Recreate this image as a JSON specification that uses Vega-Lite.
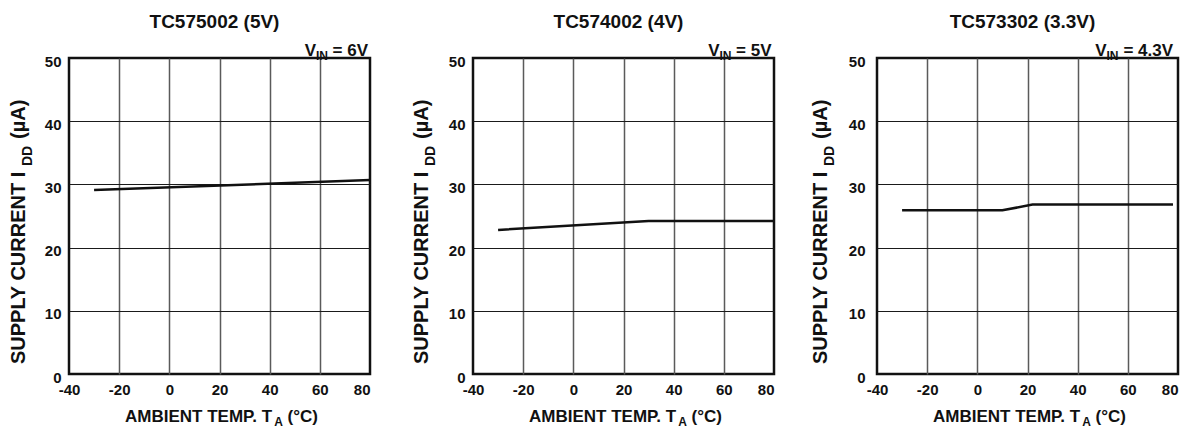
{
  "$schema": "https://vega.github.io/schema/vega-lite/v6.json",
  "padding": {"left": 7, "top": 11, "right": 0, "bottom": 0},
  "background": "white",
  "bounds": "flush",
  "spacing": 103,
  "config": {
    "font": "Liberation Sans",
    "view": {"stroke": "#111", "strokeWidth": 2.5},
    "axis": {
      "labelFont": "Liberation Sans",
      "labelFontSize": 15,
      "labelFontWeight": "bold",
      "labelColor": "#111",
      "ticks": false,
      "domain": false,
      "grid": true
    },
    "axisX": {"labelPadding": 8, "labelFlush": false, "gridColor": "#5a5a5a", "gridWidth": 1.5},
    "axisY": {"labelPadding": 8, "gridColor": "#1a1a1a", "gridWidth": 1.2},
    "text": {"font": "Liberation Sans", "fontWeight": "bold", "color": "#111"},
    "title": {"font": "Liberation Sans", "fontSize": 19, "fontWeight": "bold", "color": "#111", "frame": "group", "anchor": "middle", "offset": 10}
  },
  "hconcat": [
    {
      "width": 301,
      "height": 316,
      "title": {"text": "TC575002 (5V)", "dx": -5},
      "layer": [
        {
          "data": {"values": [
            {"panel": "TC575002 (5V)", "temp": -30, "idd": 29.1},
            {"panel": "TC575002 (5V)", "temp": 80, "idd": 30.7}
          ]},
          "mark": {"type": "line", "color": "#111", "strokeWidth": 2.5},
          "encoding": {
            "x": {"field": "temp", "type": "quantitative", "scale": {"domain": [-40, 80], "nice": false, "zero": false},
                  "axis": {"values": [-40, -20, 0, 20, 40, 60, 80], "title": null, "labelFontSize": 15, "labelExpr": "datum.value + ''",
                           "labelAlign": {"condition": {"test": "datum.value == 80", "value": "right"}, "value": "center"},
                           "gridOpacity": {"condition": {"test": "datum.value == -40 || datum.value == 80", "value": 0}, "value": 1}}},
            "y": {"field": "idd", "type": "quantitative", "scale": {"domain": [0, 50], "nice": false},
                  "axis": {"values": [0, 10, 20, 30, 40, 50], "title": null, "labelFontSize": 15, "labelOffset": 3,
                           "gridOpacity": {"condition": {"test": "datum.value == 0 || datum.value == 50", "value": 0}, "value": 1}}}
          }
        },
        {"data": {"values": [{}]}, "mark": {"type": "text", "text": "= 6V", "align": "right", "baseline": "alphabetic", "fontSize": 17, "dx": -2, "dy": -2},
         "encoding": {"x": {"datum": 80, "type": "quantitative", "scale": {"domain": [-40, 80]}}, "y": {"datum": 50, "type": "quantitative", "scale": {"domain": [0, 50]}}}},
        {"data": {"values": [{}]}, "mark": {"type": "text", "text": "IN", "align": "right", "baseline": "alphabetic", "fontSize": 12, "dx": -42, "dy": 2},
         "encoding": {"x": {"datum": 80, "type": "quantitative", "scale": {"domain": [-40, 80]}}, "y": {"datum": 50, "type": "quantitative", "scale": {"domain": [0, 50]}}}},
        {"data": {"values": [{}]}, "mark": {"type": "text", "text": "V", "align": "right", "baseline": "alphabetic", "fontSize": 17, "dx": -54, "dy": -2},
         "encoding": {"x": {"datum": 80, "type": "quantitative", "scale": {"domain": [-40, 80]}}, "y": {"datum": 50, "type": "quantitative", "scale": {"domain": [0, 50]}}}},
        {"data": {"values": [{}]}, "mark": {"type": "text", "text": "AMBIENT TEMP. T", "align": "left", "baseline": "alphabetic", "fontSize": 17, "dx": -94.5, "dy": 48},
         "encoding": {"x": {"datum": 20, "type": "quantitative", "scale": {"domain": [-40, 80]}}, "y": {"datum": 0, "type": "quantitative", "scale": {"domain": [0, 50]}}}},
        {"data": {"values": [{}]}, "mark": {"type": "text", "text": "A", "align": "left", "baseline": "alphabetic", "fontSize": 12, "dx": 54.7, "dy": 52},
         "encoding": {"x": {"datum": 20, "type": "quantitative", "scale": {"domain": [-40, 80]}}, "y": {"datum": 0, "type": "quantitative", "scale": {"domain": [0, 50]}}}},
        {"data": {"values": [{}]}, "mark": {"type": "text", "text": "(°C)", "align": "left", "baseline": "alphabetic", "fontSize": 17, "dx": 68, "dy": 48},
         "encoding": {"x": {"datum": 20, "type": "quantitative", "scale": {"domain": [-40, 80]}}, "y": {"datum": 0, "type": "quantitative", "scale": {"domain": [0, 50]}}}},
        {"data": {"values": [{}]}, "mark": {"type": "text", "text": "SUPPLY CURRENT  I", "align": "left", "baseline": "alphabetic", "angle": 270, "fontSize": 20, "dx": -148, "dy": -44},
         "encoding": {"x": {"datum": -40, "type": "quantitative", "scale": {"domain": [-40, 80]}}, "y": {"datum": 25, "type": "quantitative", "scale": {"domain": [0, 50]}}}},
        {"data": {"values": [{}]}, "mark": {"type": "text", "text": "DD", "align": "left", "baseline": "alphabetic", "angle": 270, "fontSize": 14, "dx": 50, "dy": -37},
         "encoding": {"x": {"datum": -40, "type": "quantitative", "scale": {"domain": [-40, 80]}}, "y": {"datum": 25, "type": "quantitative", "scale": {"domain": [0, 50]}}}},
        {"data": {"values": [{}]}, "mark": {"type": "text", "text": "(µA)", "align": "left", "baseline": "alphabetic", "angle": 270, "fontSize": 20, "dx": 77, "dy": -44},
         "encoding": {"x": {"datum": -40, "type": "quantitative", "scale": {"domain": [-40, 80]}}, "y": {"datum": 25, "type": "quantitative", "scale": {"domain": [0, 50]}}}}
      ]
    },
    {
      "width": 301,
      "height": 316,
      "title": {"text": "TC574002 (4V)", "dx": -5},
      "layer": [
        {
          "data": {"values": [
            {"panel": "TC574002 (4V)", "temp": -30, "idd": 22.8},
            {"panel": "TC574002 (4V)", "temp": 30, "idd": 24.2},
            {"panel": "TC574002 (4V)", "temp": 80, "idd": 24.2}
          ]},
          "mark": {"type": "line", "color": "#111", "strokeWidth": 2.5},
          "encoding": {
            "x": {"field": "temp", "type": "quantitative", "scale": {"domain": [-40, 80], "nice": false, "zero": false},
                  "axis": {"values": [-40, -20, 0, 20, 40, 60, 80], "title": null, "labelFontSize": 15, "labelExpr": "datum.value + ''",
                           "labelAlign": {"condition": {"test": "datum.value == 80", "value": "right"}, "value": "center"},
                           "gridOpacity": {"condition": {"test": "datum.value == -40 || datum.value == 80", "value": 0}, "value": 1}}},
            "y": {"field": "idd", "type": "quantitative", "scale": {"domain": [0, 50], "nice": false},
                  "axis": {"values": [0, 10, 20, 30, 40, 50], "title": null, "labelFontSize": 15, "labelOffset": 3,
                           "gridOpacity": {"condition": {"test": "datum.value == 0 || datum.value == 50", "value": 0}, "value": 1}}}
          }
        },
        {"data": {"values": [{}]}, "mark": {"type": "text", "text": "= 5V", "align": "right", "baseline": "alphabetic", "fontSize": 17, "dx": -2.5, "dy": -2},
         "encoding": {"x": {"datum": 80, "type": "quantitative", "scale": {"domain": [-40, 80]}}, "y": {"datum": 50, "type": "quantitative", "scale": {"domain": [0, 50]}}}},
        {"data": {"values": [{}]}, "mark": {"type": "text", "text": "IN", "align": "right", "baseline": "alphabetic", "fontSize": 12, "dx": -42.5, "dy": 2},
         "encoding": {"x": {"datum": 80, "type": "quantitative", "scale": {"domain": [-40, 80]}}, "y": {"datum": 50, "type": "quantitative", "scale": {"domain": [0, 50]}}}},
        {"data": {"values": [{}]}, "mark": {"type": "text", "text": "V", "align": "right", "baseline": "alphabetic", "fontSize": 17, "dx": -54.5, "dy": -2},
         "encoding": {"x": {"datum": 80, "type": "quantitative", "scale": {"domain": [-40, 80]}}, "y": {"datum": 50, "type": "quantitative", "scale": {"domain": [0, 50]}}}},
        {"data": {"values": [{}]}, "mark": {"type": "text", "text": "AMBIENT TEMP. T", "align": "left", "baseline": "alphabetic", "fontSize": 17, "dx": -94.5, "dy": 48},
         "encoding": {"x": {"datum": 20, "type": "quantitative", "scale": {"domain": [-40, 80]}}, "y": {"datum": 0, "type": "quantitative", "scale": {"domain": [0, 50]}}}},
        {"data": {"values": [{}]}, "mark": {"type": "text", "text": "A", "align": "left", "baseline": "alphabetic", "fontSize": 12, "dx": 54.7, "dy": 52},
         "encoding": {"x": {"datum": 20, "type": "quantitative", "scale": {"domain": [-40, 80]}}, "y": {"datum": 0, "type": "quantitative", "scale": {"domain": [0, 50]}}}},
        {"data": {"values": [{}]}, "mark": {"type": "text", "text": "(°C)", "align": "left", "baseline": "alphabetic", "fontSize": 17, "dx": 68, "dy": 48},
         "encoding": {"x": {"datum": 20, "type": "quantitative", "scale": {"domain": [-40, 80]}}, "y": {"datum": 0, "type": "quantitative", "scale": {"domain": [0, 50]}}}},
        {"data": {"values": [{}]}, "mark": {"type": "text", "text": "SUPPLY CURRENT  I", "align": "left", "baseline": "alphabetic", "angle": 270, "fontSize": 20, "dx": -148, "dy": -45},
         "encoding": {"x": {"datum": -40, "type": "quantitative", "scale": {"domain": [-40, 80]}}, "y": {"datum": 25, "type": "quantitative", "scale": {"domain": [0, 50]}}}},
        {"data": {"values": [{}]}, "mark": {"type": "text", "text": "DD", "align": "left", "baseline": "alphabetic", "angle": 270, "fontSize": 14, "dx": 50, "dy": -38},
         "encoding": {"x": {"datum": -40, "type": "quantitative", "scale": {"domain": [-40, 80]}}, "y": {"datum": 25, "type": "quantitative", "scale": {"domain": [0, 50]}}}},
        {"data": {"values": [{}]}, "mark": {"type": "text", "text": "(µA)", "align": "left", "baseline": "alphabetic", "angle": 270, "fontSize": 20, "dx": 77, "dy": -45},
         "encoding": {"x": {"datum": -40, "type": "quantitative", "scale": {"domain": [-40, 80]}}, "y": {"datum": 25, "type": "quantitative", "scale": {"domain": [0, 50]}}}}
      ]
    },
    {
      "width": 301,
      "height": 316,
      "title": {"text": "TC573302 (3.3V)", "dx": -5},
      "layer": [
        {
          "data": {"values": [
            {"panel": "TC573302 (3.3V)", "temp": -30, "idd": 25.9},
            {"panel": "TC573302 (3.3V)", "temp": 10, "idd": 25.9},
            {"panel": "TC573302 (3.3V)", "temp": 22, "idd": 26.8},
            {"panel": "TC573302 (3.3V)", "temp": 78, "idd": 26.8}
          ]},
          "mark": {"type": "line", "color": "#111", "strokeWidth": 2.5},
          "encoding": {
            "x": {"field": "temp", "type": "quantitative", "scale": {"domain": [-40, 80], "nice": false, "zero": false},
                  "axis": {"values": [-40, -20, 0, 20, 40, 60, 80], "title": null, "labelFontSize": 15, "labelExpr": "datum.value + ''",
                           "labelAlign": {"condition": {"test": "datum.value == 80", "value": "right"}, "value": "center"},
                           "gridOpacity": {"condition": {"test": "datum.value == -40 || datum.value == 80", "value": 0}, "value": 1}}},
            "y": {"field": "idd", "type": "quantitative", "scale": {"domain": [0, 50], "nice": false},
                  "axis": {"values": [0, 10, 20, 30, 40, 50], "title": null, "labelFontSize": 15, "labelPadding": 12, "labelOffset": 3,
                           "gridOpacity": {"condition": {"test": "datum.value == 0 || datum.value == 50", "value": 0}, "value": 1}}}
          }
        },
        {"data": {"values": [{}]}, "mark": {"type": "text", "text": "= 4.3V", "align": "right", "baseline": "alphabetic", "fontSize": 17, "dx": -5, "dy": -2},
         "encoding": {"x": {"datum": 80, "type": "quantitative", "scale": {"domain": [-40, 80]}}, "y": {"datum": 50, "type": "quantitative", "scale": {"domain": [0, 50]}}}},
        {"data": {"values": [{}]}, "mark": {"type": "text", "text": "IN", "align": "right", "baseline": "alphabetic", "fontSize": 12, "dx": -59.5, "dy": 2},
         "encoding": {"x": {"datum": 80, "type": "quantitative", "scale": {"domain": [-40, 80]}}, "y": {"datum": 50, "type": "quantitative", "scale": {"domain": [0, 50]}}}},
        {"data": {"values": [{}]}, "mark": {"type": "text", "text": "V", "align": "right", "baseline": "alphabetic", "fontSize": 17, "dx": -71.5, "dy": -2},
         "encoding": {"x": {"datum": 80, "type": "quantitative", "scale": {"domain": [-40, 80]}}, "y": {"datum": 50, "type": "quantitative", "scale": {"domain": [0, 50]}}}},
        {"data": {"values": [{}]}, "mark": {"type": "text", "text": "AMBIENT TEMP. T", "align": "left", "baseline": "alphabetic", "fontSize": 17, "dx": -94.5, "dy": 48},
         "encoding": {"x": {"datum": 20, "type": "quantitative", "scale": {"domain": [-40, 80]}}, "y": {"datum": 0, "type": "quantitative", "scale": {"domain": [0, 50]}}}},
        {"data": {"values": [{}]}, "mark": {"type": "text", "text": "A", "align": "left", "baseline": "alphabetic", "fontSize": 12, "dx": 54.7, "dy": 52},
         "encoding": {"x": {"datum": 20, "type": "quantitative", "scale": {"domain": [-40, 80]}}, "y": {"datum": 0, "type": "quantitative", "scale": {"domain": [0, 50]}}}},
        {"data": {"values": [{}]}, "mark": {"type": "text", "text": "(°C)", "align": "left", "baseline": "alphabetic", "fontSize": 17, "dx": 68, "dy": 48},
         "encoding": {"x": {"datum": 20, "type": "quantitative", "scale": {"domain": [-40, 80]}}, "y": {"datum": 0, "type": "quantitative", "scale": {"domain": [0, 50]}}}},
        {"data": {"values": [{}]}, "mark": {"type": "text", "text": "SUPPLY CURRENT  I", "align": "left", "baseline": "alphabetic", "angle": 270, "fontSize": 20, "dx": -148, "dy": -50},
         "encoding": {"x": {"datum": -40, "type": "quantitative", "scale": {"domain": [-40, 80]}}, "y": {"datum": 25, "type": "quantitative", "scale": {"domain": [0, 50]}}}},
        {"data": {"values": [{}]}, "mark": {"type": "text", "text": "DD", "align": "left", "baseline": "alphabetic", "angle": 270, "fontSize": 14, "dx": 50, "dy": -43},
         "encoding": {"x": {"datum": -40, "type": "quantitative", "scale": {"domain": [-40, 80]}}, "y": {"datum": 25, "type": "quantitative", "scale": {"domain": [0, 50]}}}},
        {"data": {"values": [{}]}, "mark": {"type": "text", "text": "(µA)", "align": "left", "baseline": "alphabetic", "angle": 270, "fontSize": 20, "dx": 77, "dy": -50},
         "encoding": {"x": {"datum": -40, "type": "quantitative", "scale": {"domain": [-40, 80]}}, "y": {"datum": 25, "type": "quantitative", "scale": {"domain": [0, 50]}}}}
      ]
    }
  ]
}
